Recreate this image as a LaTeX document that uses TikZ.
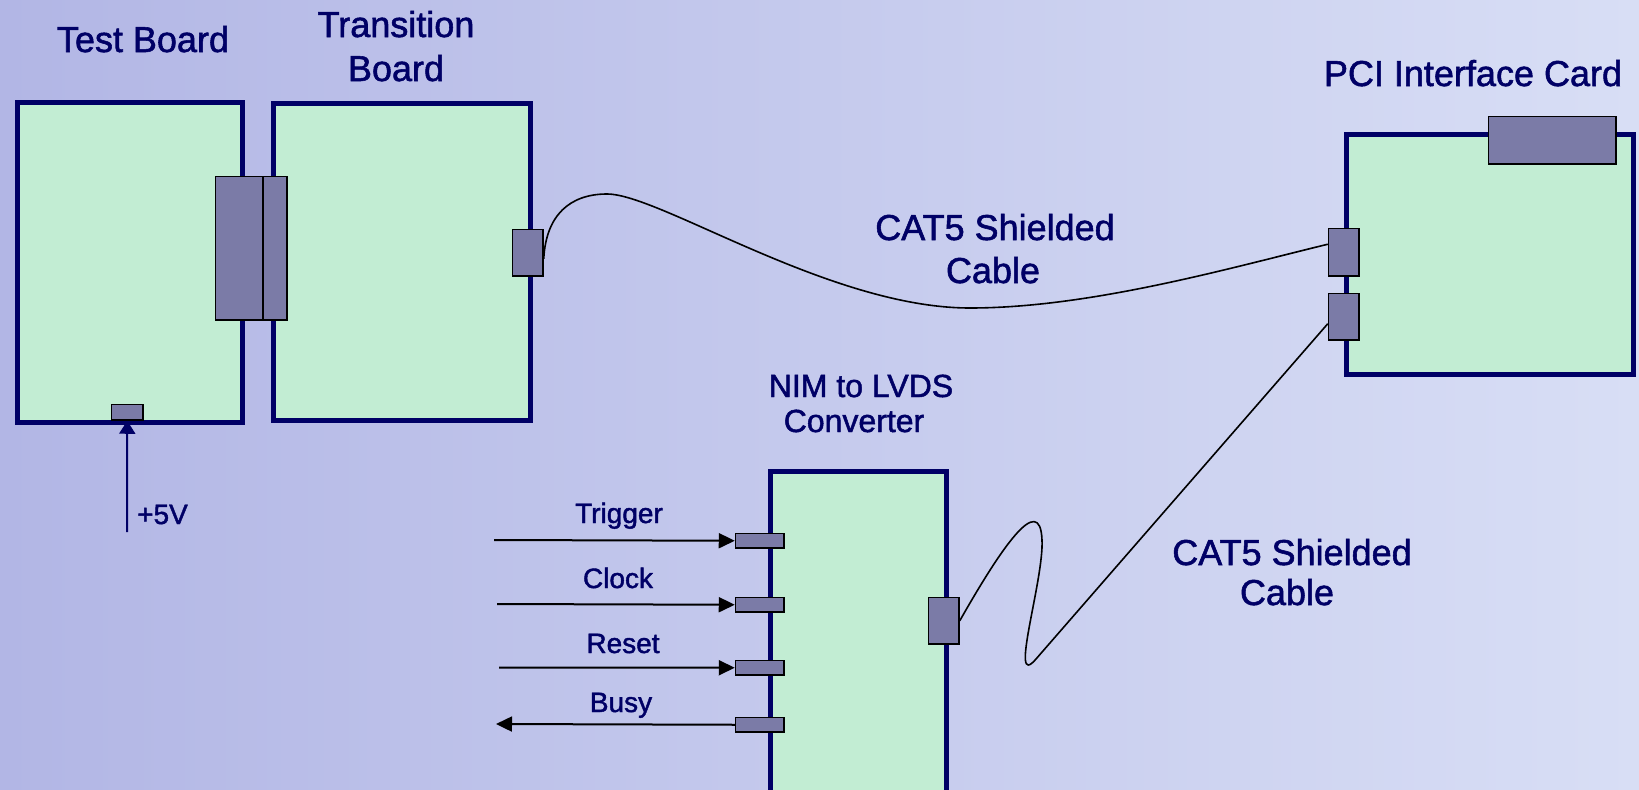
\documentclass[tikz,border=0pt]{standalone}
\usepackage{fontspec}
\setmainfont[FakeBold=1.5]{Liberation Sans}
\usetikzlibrary{arrows.meta}
\definecolor{navy}{RGB}{0,0,102}
\definecolor{boardfill}{RGB}{194,237,211}
\definecolor{connfill}{RGB}{123,123,167}
\definecolor{bgL}{RGB}{178,182,229}
\definecolor{bgM}{RGB}{204,210,241}
\definecolor{bgR}{RGB}{216,222,245}
\begin{document}
\begin{tikzpicture}[x=1pt,y=-1pt,
  board/.style={draw=navy, fill=boardfill, line width=5pt, anchor=north west, inner sep=0pt},
  conn/.style={draw=black, fill=connfill, line width=1.5pt, anchor=north west, inner sep=0pt},
  title/.style={text=navy, font=\fontsize{36}{43}\selectfont, anchor=base, inner sep=0pt},
  subtitle/.style={text=navy, font=\fontsize{32}{38}\selectfont, anchor=base, inner sep=0pt},
  sig/.style={text=navy, font=\fontsize{28}{33}\selectfont, anchor=base, inner sep=0pt},
  cable/.style={draw=black, line width=1.6pt},
  inarrow/.style={draw=black, line width=2pt, -{Triangle[length=16pt,width=15pt]}},
  pwrarrow/.style={draw=navy, line width=2pt, -{Triangle[length=13pt,width=16pt]}},
]
\useasboundingbox (0,0) rectangle (1639,790);
\clip (0,0) rectangle (1639,790);
\shade[left color=bgL, middle color=bgM, right color=bgR] (0,0) rectangle (1639,790);

% boards
\node[board, minimum width=224.5pt, minimum height=320pt] (tb) at (15,99.5) {};
\node[board, minimum width=256.5pt, minimum height=317pt] (tr) at (271,100.5) {};
\node[board, minimum width=287pt, minimum height=240pt] (pci) at (1343.5,131.5) {};
\node[board, minimum width=176pt, minimum height=350pt] (nim) at (767.5,468.5) {};

% connectors
\node[conn, minimum width=47.5pt, minimum height=143.5pt] (tbc) at (214.75,175.75) {};
\node[conn, minimum width=24pt, minimum height=143.5pt] (trc) at (262.25,175.75) {};
\node[conn, minimum width=30.5pt, minimum height=46.5pt] (tro) at (511.75,228.75) {};
\node[conn, minimum width=31.5pt, minimum height=15.5pt] (tbp) at (110.75,403.75) {};
\node[conn, minimum width=127.5pt, minimum height=47.5pt] (pcit) at (1487.75,115.75) {};
\node[conn, minimum width=30.5pt, minimum height=47.5pt] (pcia) at (1327.75,227.75) {};
\node[conn, minimum width=30.5pt, minimum height=46.5pt] (pcib) at (1327.75,292.75) {};
\node[conn, minimum width=48.5pt, minimum height=14.5pt] (ntrig) at (734.75,532.75) {};
\node[conn, minimum width=48.5pt, minimum height=14.5pt] (nclk) at (734.75,596.75) {};
\node[conn, minimum width=48.5pt, minimum height=14.5pt] (nrst) at (734.75,659.75) {};
\node[conn, minimum width=48.5pt, minimum height=14.5pt] (nbusy) at (734.75,716.75) {};
\node[conn, minimum width=30.5pt, minimum height=46.5pt] (nout) at (927.75,596.75) {};

% titles
\node[title] (tbT) at (143,52) {Test Board};
\node[title] (trT1) at (396,37) {Transition};
\node[title] (trT2) at (396,81) {Board};
\node[title] (pciT) at (1473,86) {PCI Interface Card};
\node[subtitle] (nimT1) at (861,397) {NIM to LVDS};
\node[subtitle] (nimT2) at (854,432) {Converter};
\node[title] (cabA1) at (995,240) {CAT5 Shielded};
\node[title] (cabA2) at (993,283) {Cable};
\node[title] (cabB1) at (1292,565) {CAT5 Shielded};
\node[title] (cabB2) at (1287,605) {Cable};

% signal labels
\node[sig] (lTrig) at (619,523) {Trigger};
\node[sig] (lClk) at (618,588) {Clock};
\node[sig] (lRst) at (623,653) {Reset};
\node[sig] (lBusy) at (621,712) {Busy};
\node[sig, anchor=base west] (lPwr) at (137,524) {+5V};

% signal arrows
\coordinate (trigIn) at (494,540);
\coordinate (clkIn) at (497,604);
\coordinate (rstIn) at (499,667.5);
\coordinate (busyOut) at (496,724);
\coordinate (pwrIn) at (127,532);
\draw[inarrow] (trigIn) -- (ntrig.west);
\draw[inarrow] (clkIn) -- (nclk.west);
\draw[inarrow] (rstIn) -- (nrst.west);
\draw[inarrow] (nbusy.west) -- (busyOut);
\draw[pwrarrow] (pwrIn) -- (tbp.south);

% cables
\draw[cable] ([yshift=-6pt]tro.east) .. controls (546,215) and (570,194) .. (607,194)
  .. controls (660,194) and (830,308) .. (970,308)
  .. controls (1090,308) and (1230,268) .. ([yshift=8pt]pcia.west);
\draw[cable] (nout.east) .. controls (1000,550) and (1040,490) .. (1042,540)
  .. controls (1044,580) and (1008,692) .. (1036,659)
  -- ([yshift=-7pt]pcib.west);
\end{tikzpicture}
\end{document}
